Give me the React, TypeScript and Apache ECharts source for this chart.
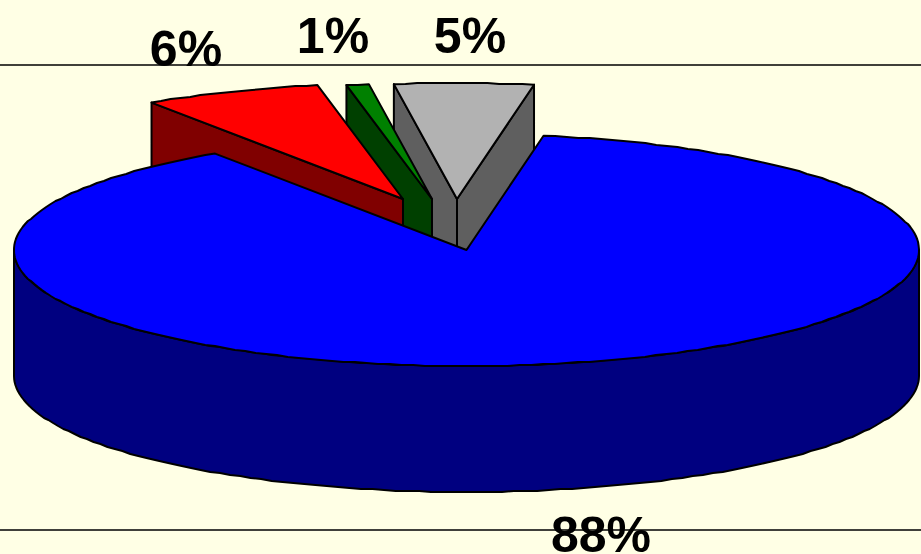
import React, { useEffect, useRef } from "react";
import * as echarts from "echarts";

// Shares, counter-clockwise from the start angle; labels show them rounded.
const sliceNames = ["Grey", "Green", "Red", "Blue"];
const sliceShares = [4.95, 0.8, 6.35, 87.9];

const topColors = ["#B2B2B2", "#008000", "#FF0000", "#0000FF"];
const sideColors = ["#5F5F5F", "#004000", "#800000", "#000080"];
const sliceOffsets = [[-9.5, -51], [-34.5, -51], [-63.5, -51], [0, 0]];
const labelAnchors = [[470, 36], [333, 36], [186, 48.5], [601, 535]];

const W = 921;
const H = 554;
const CX = 466.5;
const CY = 250;
const RX = 452.5;
const RY = 116;
const DEPTH = 126;
const START_DEG = 80.2;
const STROKE = "#000000";
const LW = 2;

const rad = (d: number) => (d * Math.PI) / 180;

function rimPoints(ox: number, oy: number, a: number, b: number, drop = 0) {
  const pts: number[][] = [];
  const steps = Math.max(2, Math.ceil((b - a) / 1.5));
  for (let i = 0; i <= steps; i++) {
    const t = rad(a + ((b - a) * i) / steps);
    const x = CX + ox + RX * Math.cos(t);
    const y = CY + oy - RY * Math.sin(t) + drop;
    const end = i === 0 || i === steps;
    pts.push(end ? [x, y] : [x, Math.round(y)]);
  }
  return pts;
}

export default function App() {
  const ref = useRef<HTMLDivElement>(null);
  useEffect(() => {
    document.body.style.margin = "0";
    const chart = echarts.init(ref.current!, undefined, { renderer: "svg" });
    const total = sliceShares.reduce((s, v) => s + v, 0);
    const ranges: number[][] = [];
    let acc = START_DEG;
    sliceShares.forEach((v) => {
      const next = acc + (v / total) * 360;
      ranges.push([acc, next]);
      acc = next;
    });

    const renderItem = (params: any) => {
      const i = params.dataIndex;
      const [a, b] = ranges[i];
      const [ox, oy] = sliceOffsets[i];
      const ax = CX + ox;
      const ay = CY + oy;
      const style = (fill: string) => ({ fill, stroke: STROKE, lineWidth: LW, lineJoin: "round" });
      const children: any[] = [];
      const wall = (deg: number) => {
        const t = rad(deg);
        const x = ax + RX * Math.cos(t);
        const y = ay - RY * Math.sin(t);
        children.push({
          type: "polygon",
          shape: { points: [[ax, ay], [x, y], [x, y + DEPTH], [ax, ay + DEPTH]] },
          style: style(sideColors[i]),
        });
      };
      if (Math.cos(rad(a)) > 0) wall(a);
      if (Math.cos(rad(b)) < 0) wall(b);
      const fa = Math.max(a, 180);
      const fb = Math.min(b, 360);
      if (fb > fa) {
        children.push({
          type: "polygon",
          shape: {
            points: [...rimPoints(ox, oy, fa, fb), ...rimPoints(ox, oy, fa, fb, DEPTH).reverse()],
          },
          style: style(sideColors[i]),
        });
      }
      children.push({
        type: "polygon",
        shape: { points: [[ax, ay], ...rimPoints(ox, oy, a, b)] },
        style: style(topColors[i]),
      });
      children.push({
        type: "text",
        style: {
          x: labelAnchors[i][0],
          y: labelAnchors[i][1],
          text: `${Math.round(sliceShares[i])}%`,
          fill: "#000000",
          font: 'bold 50px "Liberation Sans", Arial, sans-serif',
          lineHeight: 38,
          align: "center",
          verticalAlign: "middle",
        },
      });
      return { type: "group", children };
    };

    chart.setOption({
      animation: false,
      backgroundColor: "#FFFFE5",
      graphic: [65, 530].map((y) => ({
        type: "line",
        shape: { x1: 0, y1: y, x2: W, y2: y },
        style: { stroke: "#000000", lineWidth: 1.5 },
        silent: true,
      })),
      series: [
        {
          type: "custom",
          coordinateSystem: "none",
          renderItem,
          clip: false,
          data: sliceShares.map((value, i) => ({ name: sliceNames[i], value })),
        },
      ],
    });
    return () => chart.dispose();
  }, []);
  return <div ref={ref} style={{ position: "absolute", left: 0, top: 0, width: W, height: H }} />;
}
